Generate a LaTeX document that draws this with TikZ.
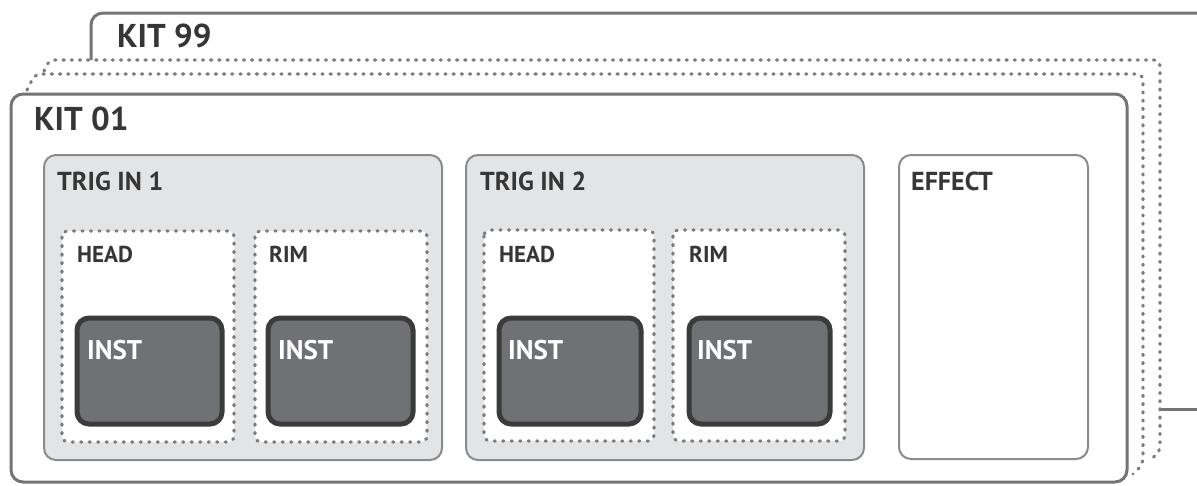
\documentclass[tikz,border=0pt]{standalone}
\usepackage{fontspec}
\setmainfont{PT Sans}
\usepackage{tikz}
\definecolor{framegrey}{HTML}{737476}
\definecolor{boxgrey}{HTML}{8A8B8D}
\definecolor{dotgrey}{HTML}{7A7B7D}
\definecolor{trigfill}{HTML}{E3E4E6}
\definecolor{instfill}{HTML}{707175}
\definecolor{instedge}{HTML}{3B3B3C}
\definecolor{textgrey}{HTML}{363636}
\tikzset{
  kitframe/.style={draw=framegrey, line width=3pt, rounded corners=12pt},
  stackline/.style={draw=dotgrey, line width=3.2pt, line cap=round,
    dash pattern=on 1.2pt off 7pt},
  trigbox/.style={draw=boxgrey, line width=2pt, fill=trigfill, rounded corners=12pt},
  effectbox/.style={draw=boxgrey, line width=2pt, fill=white, rounded corners=12pt},
  padbox/.style={draw=dotgrey, line width=3.2pt, fill=white, line cap=round,
    dash pattern=on 1.2pt off 7.3pt, rounded corners=6pt},
  instbox/.style={draw=instedge, line width=5pt, fill=instfill, rounded corners=12pt},
  kitlabel/.style={font=\fontsize{33}{36}\selectfont\bfseries, text=textgrey,
    inner sep=0pt, anchor=base west},
  grouplabel/.style={font=\fontsize{26}{30}\selectfont\bfseries, text=textgrey,
    inner sep=0pt, anchor=base west},
  padlabel/.style={font=\fontsize{23}{26}\selectfont\bfseries, text=textgrey,
    inner sep=0pt, anchor=base west},
  instlabel/.style={font=\fontsize{27}{30}\selectfont\bfseries, text=white,
    inner sep=0pt, anchor=base west}
}
\begin{document}
\begin{tikzpicture}[x=1pt, y=-1pt]
  \useasboundingbox (0,0) rectangle (1197,485);
  % KIT 99 (back)
  \draw[kitframe] (91,60) -- (91,13) -- (1210,13);
  \draw[framegrey, line width=3pt] (1160,409) -- (1197,409);
  \node[kitlabel] (kitlast) at (117,47) {KIT 99};
  % stacked kits in between
  \draw[stackline, rounded corners=6pt]
    (44,71) -- (49,60) -- (1160,60) -- (1160,452) -- (1151,459);
  \draw[stackline, rounded corners=6pt]
    (27,90) -- (35,74) -- (1143,74) -- (1143,464) -- (1133,474);
  % KIT 01 (front)
  \draw[kitframe, fill=white] (11,94) rectangle (1127,482);
  \node[kitlabel] (kitfirst) at (34,130) {KIT 01};
  % TRIG IN 1
  \draw[trigbox] (44,155) rectangle (442,460);
  \node[grouplabel] (trigone) at (57,190) {TRIG IN 1};
  \draw[padbox] (62,231) rectangle (234,442);
  \node[padlabel] (headone) at (77,262) {HEAD};
  \draw[padbox] (255,231) rectangle (427,442);
  \node[padlabel] (rimone) at (269,262) {RIM};
  \draw[instbox] (77,318) rectangle (222,424);
  \node[instlabel] (instheadone) at (87,359) {INST};
  \draw[instbox] (268,318) rectangle (413,424);
  \node[instlabel] (instrimone) at (278,359) {INST};
  % TRIG IN 2
  \draw[trigbox] (466,155) rectangle (864,460);
  \node[grouplabel] (trigtwo) at (480,190) {TRIG IN 2};
  \draw[padbox] (484,230) rectangle (654,441);
  \node[padlabel] (headtwo) at (499,262) {HEAD};
  \draw[padbox] (673,230) rectangle (845,441);
  \node[padlabel] (rimtwo) at (689,262) {RIM};
  \draw[instbox] (499,318) rectangle (641,424);
  \node[instlabel] (instheadtwo) at (508,359) {INST};
  \draw[instbox] (689,318) rectangle (830,424);
  \node[instlabel] (instrimtwo) at (697,359) {INST};
  % EFFECT
  \draw[effectbox] (899,155) rectangle (1088,459);
  \node[grouplabel] (effect) at (911,190) {EFFECT};
\end{tikzpicture}
\end{document}
